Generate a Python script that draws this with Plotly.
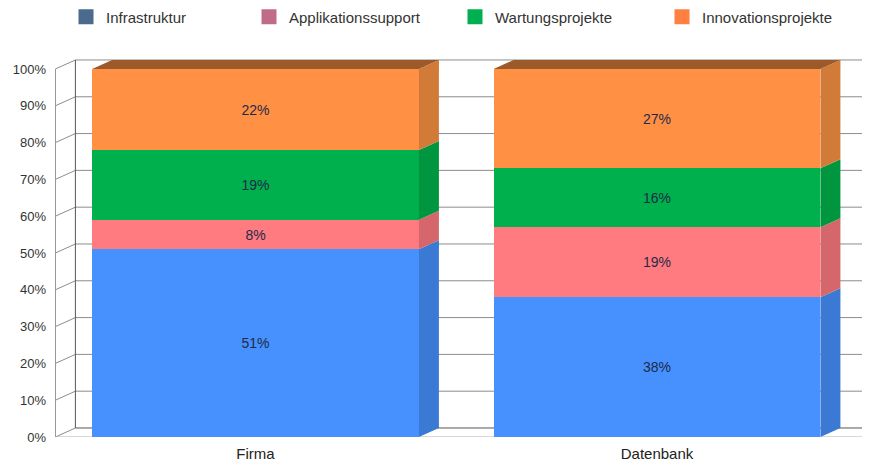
import plotly.graph_objects as go

# chart data
categories = ["Firma", "Datenbank"]
series_names = ["Infrastruktur", "Applikationssupport", "Wartungsprojekte", "Innovationsprojekte"]
infrastruktur = [51, 38]
applikationssupport = [8, 19]
wartungsprojekte = [19, 16]
innovationsprojekte = [22, 27]
y_ticks = [0, 10, 20, 30, 40, 50, 60, 70, 80, 90, 100]

series_values = [infrastruktur, applikationssupport, wartungsprojekte, innovationsprojekte]

# colours: front face, side face, legend swatch
front_colors = ["#4791FF", "#FF7B7F", "#00B04D", "#FF9044"]
side_colors = ["#3B7AD4", "#D5666B", "#00963F", "#D27A38"]
legend_colors = ["#4A6A8E", "#C06B88", "#00B050", "#FF8040"]
top_color = "#9C5A2B"

# 3d geometry in axis units
bar_width = 0.814
dx = 0.0498
dy = 2.45
x_min, x_max = -0.4994, 1.5305
y_max = 103.8
xs = list(range(len(categories)))

fig = go.Figure()

# front faces
for name, vals, col in zip(series_names, series_values, front_colors):
    fig.add_trace(go.Bar(
        x=xs, y=vals, width=bar_width, name=name, showlegend=False,
        marker=dict(color=col, line=dict(width=0)),
        text=[f"{v}%" for v in vals], textposition="inside",
        insidetextanchor="middle", textangle=0,
        textfont=dict(size=14, color="#1E2A48"),
        hoverinfo="skip",
    ))

# side and top faces
for i, xc in enumerate(xs):
    xl = xc - bar_width / 2
    xr = xc + bar_width / 2
    base = 0
    for s, vals in enumerate(series_values):
        top = base + vals[i]
        fig.add_trace(go.Scatter(
            x=[xr, xr + dx, xr + dx, xr, xr],
            y=[base, base + dy, top + dy, top, base],
            fill="toself", fillcolor=side_colors[s], mode="lines",
            line=dict(width=0), showlegend=False, hoverinfo="skip",
        ))
        base = top
    fig.add_trace(go.Scatter(
        x=[xl, xl + dx, xr + dx, xr, xl],
        y=[base, base + dy, base + dy, base, base],
        fill="toself", fillcolor=top_color, mode="lines",
        line=dict(width=0), showlegend=False, hoverinfo="skip",
    ))

# back wall grid
grid = "#8C8C8C"
xl0 = x_min + 0.001
shapes = []
for v in y_ticks:
    shapes.append(dict(type="line", xref="x", yref="y", layer="below",
                       x0=xl0 + dx, y0=v + dy, x1=x_max, y1=v + dy,
                       line=dict(color="#555555" if v == 0 else grid, width=1)))
    shapes.append(dict(type="line", xref="x", yref="y", layer="below",
                       x0=xl0, y0=v, x1=xl0 + dx, y1=v + dy,
                       line=dict(color=grid, width=1)))
shapes.append(dict(type="line", xref="x", yref="y", layer="below",
                   x0=xl0, y0=0, x1=xl0, y1=100, line=dict(color=grid, width=1)))
shapes.append(dict(type="line", xref="x", yref="y", layer="below",
                   x0=xl0 + dx, y0=dy, x1=xl0 + dx, y1=100 + dy,
                   line=dict(color="#555555", width=1)))
shapes.append(dict(type="line", xref="x", yref="y", layer="below",
                   x0=xl0, y0=0, x1=x_max, y1=0, line=dict(color="#B0B0B0", width=1)))

# legend entries, each in its own legend box (page has 8px body margin)
swatch_px = [78, 261, 467, 674]
legend_layout = {}
for k, (name, col, px) in enumerate(zip(series_names, legend_colors, swatch_px)):
    key = "legend" if k == 0 else f"legend{k + 1}"
    fig.add_trace(go.Scatter(
        x=[None], y=[None], mode="markers", name=name, legend=key,
        marker=dict(symbol="square", size=15, color=col),
    ))
    legend_layout[key] = dict(
        x=(px - 20 - 47) / 815, xanchor="left",
        y=1 - 9 / 455, yref="container", yanchor="middle",
        orientation="h", bgcolor="rgba(0,0,0,0)",
        font=dict(size=15, color="#333333"),
    )

fig.update_layout(
    width=862, height=455,
    margin=dict(l=47, r=0, t=47, b=26),
    barmode="stack", bargap=0,
    plot_bgcolor="white", paper_bgcolor="white",
    font=dict(family="Liberation Sans, Arial, sans-serif", color="#333333"),
    shapes=shapes,
    xaxis=dict(range=[x_min, x_max], tickvals=xs, ticktext=categories,
               showgrid=False, zeroline=False, showline=False, ticks="",
               ticklabelstandoff=6,
               tickfont=dict(size=15, color="#222222"), fixedrange=True),
    yaxis=dict(range=[0, y_max], tickvals=y_ticks,
               ticktext=[f"{v}%" for v in y_ticks],
               showgrid=False, zeroline=False, showline=False, ticks="",
               ticklabelstandoff=8,
               tickfont=dict(size=13, color="#333333"), fixedrange=True),
    **legend_layout,
)

fig.write_html("out.html")
